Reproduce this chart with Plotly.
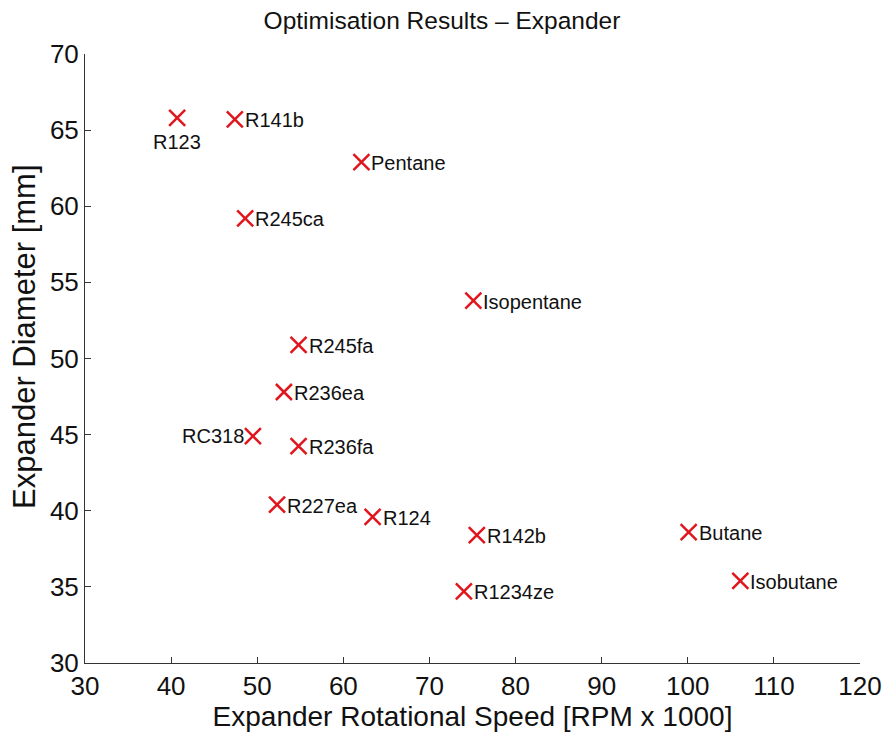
import plotly.graph_objects as go

fluids = ["R123", "R141b", "Pentane", "R245ca", "Isopentane", "R245fa", "R236ea",
          "RC318", "R236fa", "R227ea", "R124", "R142b", "Butane", "Isobutane", "R1234ze"]
speed = [40.7, 47.4, 62.1, 48.6, 75.1, 54.8, 53.1, 49.5, 54.8, 52.3, 63.4, 75.5, 100.1, 106.1, 74.0]
diameter = [65.8, 65.7, 62.9, 59.2, 53.8, 50.9, 47.8, 44.9, 44.25, 40.4, 39.6, 38.4, 38.6, 35.4, 34.7]

FONT = "Liberation Sans, Arial, sans-serif"
W, H = 888, 738
L, R, T, B = 85, 28, 54, 75
PW, PH = W - L - R, H - T - B

fig = go.Figure()
fig.add_trace(go.Scatter(
    x=speed, y=diameter, mode="markers",
    marker=dict(symbol="x-thin", size=16, line=dict(color="#e0161c", width=2.5)),
    showlegend=False, hoverinfo="text", text=fluids,
))

for name, xv, yv in zip(fluids, speed, diameter):
    if name == "R123":
        ann = dict(xanchor="center", yanchor="middle", xshift=0, yshift=-24)
    elif name == "RC318":
        ann = dict(xanchor="right", yanchor="middle", xshift=-7, yshift=0)
    else:
        ann = dict(xanchor="left", yanchor="middle", xshift=8, yshift=-1)
    fig.add_annotation(x=xv, y=yv, text=name, showarrow=False,
                       font=dict(family=FONT, size=20, color="#111111"), **ann)

# y-axis title as annotation for exact placement
fig.add_annotation(text="Expander Diameter [mm]", textangle=-90, showarrow=False,
                   xref="paper", yref="paper",
                   x=(24 - L) / PW, y=(H - B - 337) / PH,
                   xanchor="center", yanchor="middle",
                   font=dict(family=FONT, size=31, color="#111111"))

fig.update_layout(
    width=W, height=H,
    margin=dict(l=L, r=R, t=T, b=B, autoexpand=False),
    paper_bgcolor="white", plot_bgcolor="white",
    title=dict(text="Optimisation Results \u2013 Expander", x=442 / W, xanchor="center",
               y=1 - 20 / H, yanchor="middle", yref="container", xref="container",
               font=dict(family=FONT, size=24.5, color="#111111")),
    xaxis=dict(range=[30, 120], tick0=30, dtick=10, showline=True, linecolor="#333333",
               linewidth=1, ticks="inside", ticklen=6, tickcolor="#333333",
               showgrid=False, zeroline=False, automargin=False,
               tickfont=dict(family=FONT, size=26, color="#111111"),
               title=dict(text="Expander Rotational Speed [RPM x 1000]", standoff=4,
                          font=dict(family=FONT, size=28, color="#111111"))),
    yaxis=dict(range=[30, 70], tick0=30, dtick=5, showline=True, linecolor="#333333",
               linewidth=1, ticks="inside", ticklen=6, tickcolor="#333333",
               showgrid=False, zeroline=False, automargin=False,
               tickfont=dict(family=FONT, size=26, color="#111111")),
)

fig.write_html("out.html")
